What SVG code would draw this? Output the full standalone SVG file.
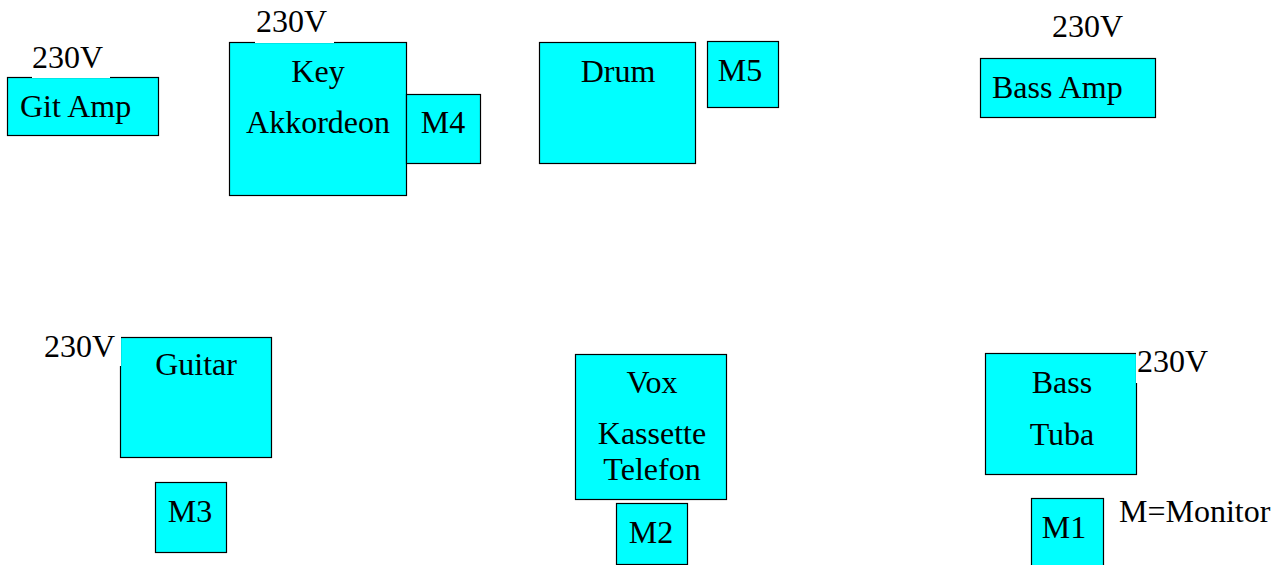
<svg xmlns="http://www.w3.org/2000/svg" width="1282" height="565" viewBox="0 0 1282 565">
<style>
.box{fill:#00ffff;stroke:#000;stroke-width:1.2}
.bg{fill:#fff}
text{font-family:"Liberation Serif","Times New Roman",serif;font-size:32px;fill:#000}
.c{text-anchor:middle}
</style>
<rect width="1282" height="565" fill="#fff"/>
<g id="git-amp">
<rect class="box" x="7.5" y="77.5" width="151" height="58"/>
<rect class="bg" x="32" y="46" width="78" height="32"/>
<text x="32" y="68">230V</text>
<text x="20" y="117">Git Amp</text>
</g>
<g id="key">
<rect class="box" x="229.5" y="42.5" width="177" height="153"/>
<rect class="bg" x="255" y="10" width="79" height="33"/>
<text x="256" y="32">230V</text>
<text class="c" x="318" y="82">Key</text>
<text class="c" x="318" y="133">Akkordeon</text>
</g>
<g id="m4">
<rect class="box" x="406.5" y="94.5" width="74" height="69"/>
<text class="c" x="443" y="133">M4</text>
</g>
<g id="drum">
<rect class="box" x="539.5" y="42.5" width="156" height="121"/>
<text class="c" x="618" y="82">Drum</text>
</g>
<g id="m5">
<rect class="box" x="707.5" y="41.5" width="71" height="66"/>
<text class="c" x="740" y="81">M5</text>
</g>
<g id="bass-amp">
<rect class="box" x="980.5" y="58.5" width="175" height="59"/>
<text x="1052" y="37">230V</text>
<text x="992" y="98">Bass Amp</text>
</g>
<g id="guitar">
<rect class="box" x="120.5" y="337.5" width="151" height="120"/>
<rect class="bg" x="44" y="336" width="77" height="30"/>
<text x="44" y="357">230V</text>
<text class="c" x="196" y="375">Guitar</text>
</g>
<g id="m3">
<rect class="box" x="155.5" y="482.5" width="71" height="70"/>
<text class="c" x="190" y="522">M3</text>
</g>
<g id="vox">
<rect class="box" x="575.5" y="354.5" width="151" height="145"/>
<text class="c" x="652" y="393">Vox</text>
<text class="c" x="652" y="444">Kassette</text>
<text class="c" x="652" y="480">Telefon</text>
</g>
<g id="m2">
<rect class="box" x="616.5" y="503.5" width="71" height="61"/>
<text class="c" x="651" y="543">M2</text>
</g>
<g id="bass-tuba">
<rect class="box" x="985.5" y="353.5" width="151" height="121"/>
<rect class="bg" x="1136" y="350" width="76" height="33"/>
<text x="1137" y="372">230V</text>
<text class="c" x="1062" y="393">Bass</text>
<text class="c" x="1062" y="445">Tuba</text>
</g>
<g id="m1">
<rect class="box" x="1031.5" y="498.5" width="72" height="80"/>
<text class="c" x="1064" y="538">M1</text>
</g>
<g id="legend">
<text x="1119" y="522">M=Monitor</text>
</g>
</svg>
